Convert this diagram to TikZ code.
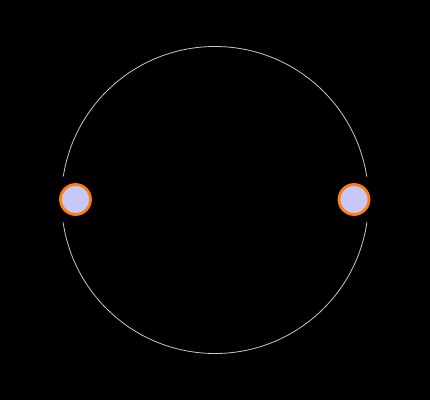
\documentclass[tikz,border=0pt]{standalone}
\definecolor{ringgray}{RGB}{200,200,200}
\definecolor{nodefill}{RGB}{200,200,248}
\definecolor{nodeedge}{RGB}{255,127,14}
\tikzset{
  dot/.style={circle, minimum size=30pt, inner sep=0pt, fill=nodefill, draw=nodeedge, line width=2.8pt,
    preaction={draw=black, line width=22pt}},
  ring/.style={draw=ringgray, line width=0.8pt}
}
\begin{document}
\begin{tikzpicture}[x=1pt,y=1pt]
\fill[black] (0,0) rectangle (430,400);
\useasboundingbox (0,0) rectangle (430,400);
\coordinate (c) at (215,200);
\draw[ring] (c) circle[radius=153.5];
\node[dot] (a) at (75.5,200.5) {};
\node[dot] (b) at (354,200.5) {};
\end{tikzpicture}
\end{document}
